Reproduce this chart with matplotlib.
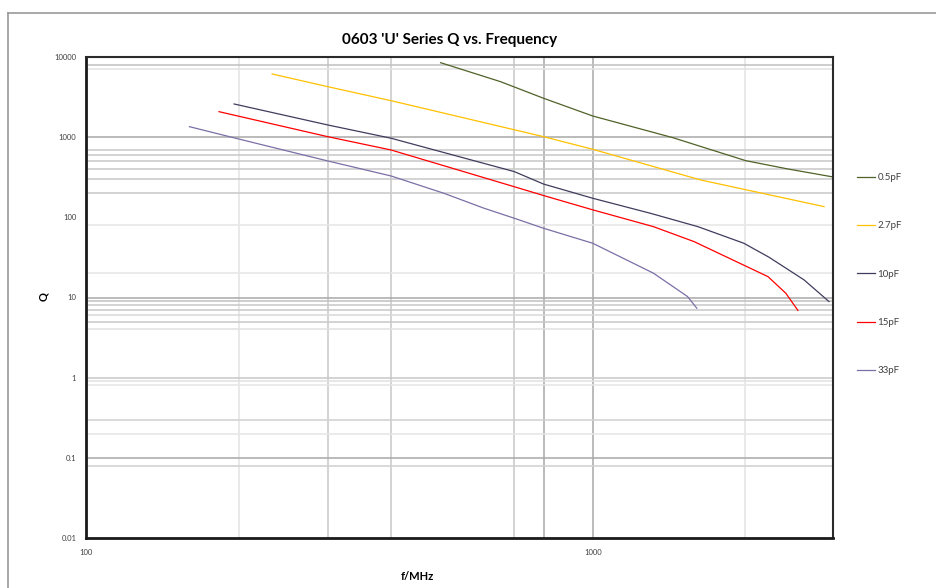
import numpy as np
import matplotlib
matplotlib.use("Agg")
import matplotlib.pyplot as plt
from matplotlib.lines import Line2D

plt.rcParams['font.family'] = ['Lato', 'DejaVu Sans']

# Q vs frequency (f in MHz)
f_05 = [501, 658, 800, 1000, 1439, 2005, 2428, 2980]
q_05 = [8490, 4920, 3055, 1837, 986, 509, 401, 319]

f_27 = [233, 300, 402, 800, 1000, 1635, 2862]
q_27 = [6140, 4265, 2830, 1014, 706, 292, 136]

f_10 = [196, 300, 400, 700, 800, 1000, 1302, 1613, 1987, 2228, 2612, 2926]
q_10 = [2594, 1420, 970, 372, 260, 173, 112, 76.5, 47.5, 31.8, 16.6, 8.9]

f_15 = [183, 300, 400, 700, 800, 1000, 1318, 1585, 2218, 2405, 2541]
q_15 = [2080, 1014, 692, 241, 187, 124, 76.5, 49.8, 18.2, 11.3, 6.9]

f_33 = [160, 200, 300, 400, 508, 610, 700, 800, 1000, 1318, 1538, 1605]
q_33 = [1352, 950, 505, 328, 200, 130, 97.5, 73, 47.5, 20.1, 10.3, 7.35]

labels = ['0.5pF', '2.7pF', '10pF', '15pF', '33pF']
colors = ['#4f6228', '#ffc000', '#3f3d5e', '#ff0000', '#7c6fa6']

y_ticks = [0.01, 0.1, 1, 10, 100, 1000, 10000]
y_tick_labels = ['0.01', '0.1', '1', '10', '100', '1000', '10000']
x_ticks = [100, 1000]
x_tick_labels = ['100', '1000']

# gridlines as they show up in the picture (value, grey level)
v_grid = [(200, '#e3e3e3'), (300, '#c8c8c8'), (400, '#c8c8c8'), (700, '#c8c8c8'),
          (800, '#a8a8a8'), (1000, '#a8a8a8'), (2000, '#e3e3e3')]
h_grid = [(8000, '#c0c0c0'), (7000, '#e3e3e3'),
          (1000, '#a8a8a8'), (700, '#c8c8c8'), (600, '#c8c8c8'), (500, '#c8c8c8'),
          (400, '#c8c8c8'), (300, '#c8c8c8'), (200, '#c8c8c8'),
          (80, '#e6e6e6'), (20, '#e6e6e6'),
          (10, '#a8a8a8'), (9, '#c0c0c0'), (8, '#c8c8c8'), (7, '#c8c8c8'),
          (6, '#d8d8d8'), (5, '#c8c8c8'), (4, '#e0e0e0'),
          (1, '#c8c8c8'), (0.9, '#e0e0e0'), (0.8, '#e6e6e6'),
          (0.3, '#d0d0d0'), (0.2, '#e6e6e6'),
          (0.1, '#a8a8a8'), (0.08, '#d0d0d0')]

fig = plt.figure(figsize=(9.37, 5.88), dpi=100)
ax = fig.add_axes([86 / 937, 1 - 538 / 588, (833 - 86) / 937, (538 - 57) / 588])

ax.set_xscale('log')
ax.set_yscale('log')
ax.set_xlim(100, 2980)
ax.set_ylim(0.01, 10000)

for v, c in v_grid:
    ax.axvline(v, color=c, lw=1.1, zorder=0)
for v, c in h_grid:
    ax.axhline(v, color=c, lw=1.1, zorder=0)

series = [(f_05, q_05), (f_27, q_27), (f_10, q_10), (f_15, q_15), (f_33, q_33)]
for (f, q), lab, col in zip(series, labels, colors):
    ax.plot(f, q, color=col, lw=0.9, label=lab)

ax.set_xticks(x_ticks)
ax.set_xticklabels(x_tick_labels)
ax.set_yticks(y_ticks)
ax.set_yticklabels(y_tick_labels)
ax.xaxis.set_minor_locator(matplotlib.ticker.NullLocator())
ax.yaxis.set_minor_locator(matplotlib.ticker.NullLocator())
ax.tick_params(axis='both', length=0, labelsize=5.5, colors='#404040')
ax.tick_params(axis='x', pad=8)
ax.tick_params(axis='y', pad=7)

for s in ['left', 'bottom']:
    ax.spines[s].set_linewidth(2.0)
    ax.spines[s].set_color('#1a1a1a')
for s in ['top', 'right']:
    ax.spines[s].set_linewidth(1.5)
    ax.spines[s].set_color('#2a2a2a')

fig.text(450 / 937, 1 - 40 / 588, "0603 'U' Series Q vs. Frequency",
         ha='center', va='center', fontsize=11, fontweight='bold')
fig.text(417 / 937, 1 - 576 / 588, 'f/MHz', ha='center', va='center',
         fontsize=8, fontweight='bold')
fig.text(44 / 937, 1 - 297 / 588, 'Q', ha='center', va='center',
         fontsize=8, fontweight='bold', rotation=90)

leg = ax.legend(loc='upper left', bbox_to_anchor=(857 / 937, 1 - 173 / 588),
                bbox_transform=fig.transFigure, frameon=False, fontsize=7,
                handlelength=1.9, handletextpad=0.2, labelspacing=4.05,
                borderpad=0, borderaxespad=0)
for t in leg.get_texts():
    t.set_color('#404040')

# outer chart-area border (top and left edges only visible)
fig.add_artist(Line2D([8 / 937, 1.0], [1 - 12.5 / 588, 1 - 12.5 / 588],
                      transform=fig.transFigure, color='#9a9a9a', lw=1.2))
fig.add_artist(Line2D([8 / 937, 8 / 937], [0.0, 1 - 12.5 / 588],
                      transform=fig.transFigure, color='#9a9a9a', lw=1.2))

fig.savefig('out.png', dpi=100)
